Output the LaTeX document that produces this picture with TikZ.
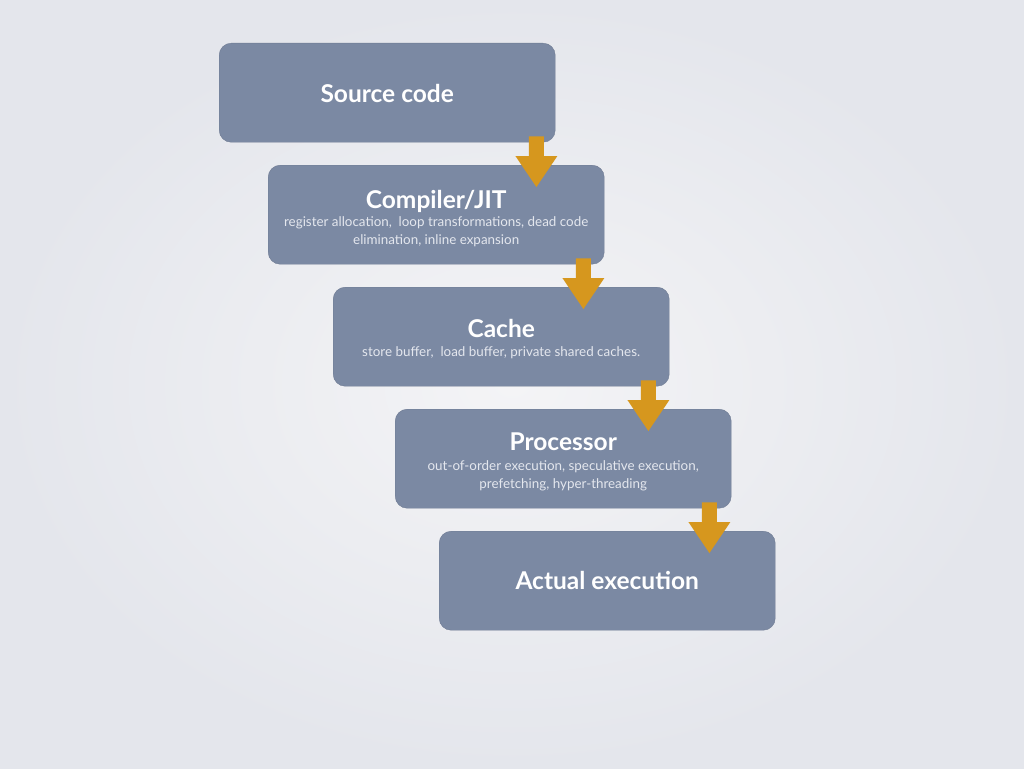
\documentclass[tikz,border=0pt]{standalone}
\usepackage{fontspec}
\setmainfont{Lato}
\usetikzlibrary{calc}
\definecolor{boxc}{RGB}{123,137,163}
\definecolor{arrowc}{RGB}{214,151,30}
\definecolor{bgout}{RGB}{228,230,236}
\definecolor{bgin}{RGB}{244,244,246}
\definecolor{subc}{RGB}{228,231,238}
\tikzset{
  box/.style={fill=boxc, draw=boxc!90!black, line width=0.4pt, rounded corners=12pt, minimum width=336pt, minimum height=99pt, anchor=north west, inner sep=0pt},
  ttl/.style={text=white, font=\bfseries\fontsize{24.5}{27}\selectfont, anchor=base, inner sep=0pt},
  sub/.style={text=subc, font=\fontsize{13.4}{16}\selectfont, anchor=base, inner sep=0pt},
}
\newcommand\blockarrow[2]{%
  \fill[arrowc] ($(#1)+(-7.5,0)$) -- ($(#2)+(-7.5,-31)$) -- ($(#2)+(-21,-31)$) -- (#2) -- ($(#2)+(21,-31)$) -- ($(#2)+(7.5,-31)$) -- ($(#1)+(7.5,0)$) -- cycle;}
\begin{document}
\begin{tikzpicture}[x=1pt,y=-1pt]
\useasboundingbox (0,0) rectangle (1024,768);
\shade[inner color=bgin, outer color=bgout] (0,0) rectangle (1024,768);
\node[box] (b1) at (219,43) {};
\node[box] (b2) at (268,165) {};
\node[box] (b3) at (333,287) {};
\node[box] (b4) at (395,409) {};
\node[box] (b5) at (439,531) {};
% texts
\node[ttl] (t1) at ($(b1.north)+(0,59)$) {Source code};
\node[ttl] (t2) at ($(b2.north)+(0,43)$) {Compiler/JIT};
\node[sub] (s2a) at ($(b2.north)+(0,61)$) {register allocation,\ \ loop transformations, dead code};
\node[sub] (s2b) at ($(b2.north)+(0,79)$) {elimination, inline expansion};
\node[ttl] (t3) at ($(b3.north)+(0,50)$) {Cache};
\node[sub] (s3a) at ($(b3.north)+(0,69)$) {store buffer,\ \ load buffer, private shared caches.};
\node[ttl] (t4) at ($(b4.north)+(0,41)$) {Processor};
\node[sub] (s4a) at ($(b4.north)+(0,61)$) {out-of-order execution, speculative execution,};
\node[sub] (s4b) at ($(b4.north)+(0,79)$) {prefetching, hyper-threading};
\node[ttl] (t5) at ($(b5.north)+(0,58)$) {Actual execution};
% arrows
\coordinate (a1s) at ($(b1.south east)+(-19,-6)$);
\path (b2.north) ++(0,22) coordinate (a1h);
\coordinate (a1t) at (a1s |- a1h);
\blockarrow{a1s}{a1t}
\coordinate (a2s) at ($(b2.south east)+(-21,-6)$);
\path (b3.north) ++(0,22) coordinate (a2h);
\coordinate (a2t) at (a2s |- a2h);
\blockarrow{a2s}{a2t}
\coordinate (a3s) at ($(b3.south east)+(-21,-6)$);
\path (b4.north) ++(0,22) coordinate (a3h);
\coordinate (a3t) at (a3s |- a3h);
\blockarrow{a3s}{a3t}
\coordinate (a4s) at ($(b4.south east)+(-22,-6)$);
\path (b5.north) ++(0,22) coordinate (a4h);
\coordinate (a4t) at (a4s |- a4h);
\blockarrow{a4s}{a4t}
\end{tikzpicture}
\end{document}
